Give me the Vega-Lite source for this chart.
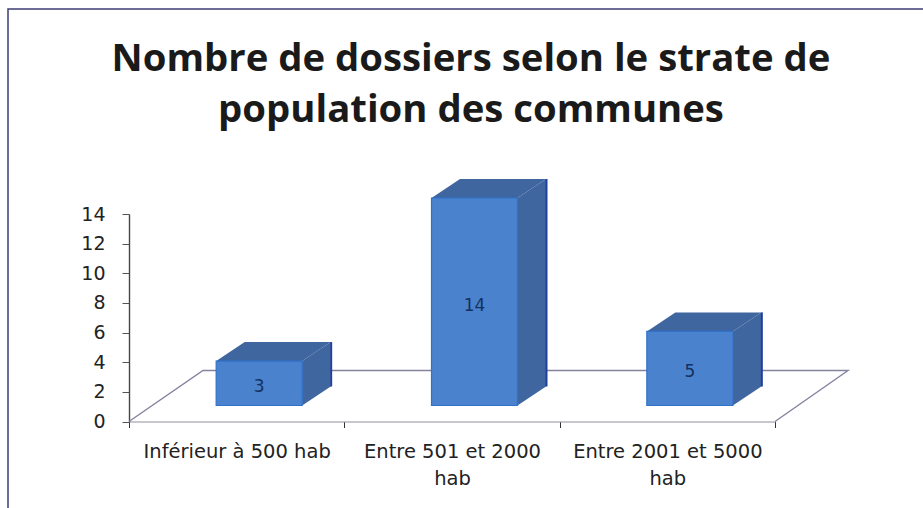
{
"$schema":"https://vega.github.io/schema/vega-lite/v6.json",
"autosize":"none",
"padding":{"left":8,"top":9,"right":0,"bottom":0},
"width":930,
"height":520,
"background":"white",
"title":{"text":["Nombre de dossiers selon le strate de","population des communes"],"anchor":"middle","frame":"group","offset":-121,"dx":-2,"font":"Open Sans","fontSize":38.3,"fontWeight":"bold","color":"#1a1a1a","lineHeight":51},
"config":{"view":{"stroke":"#3d3d74","strokeWidth":1.5}},
"data":{"values":[
{"category":"Inférieur à 500 hab","value":3},
{"category":"Entre 501 et 2000 hab","value":14},
{"category":"Entre 2001 et 5000 hab","value":5}
]},
"encoding":{
"x":{"field":"category","type":"nominal","sort":null,"scale":{"domain":["Inférieur à 500 hab","Entre 501 et 2000 hab","Entre 2001 et 5000 hab"],"range":[121,767],"paddingInner":0,"paddingOuter":0},"title":null,
"axis":{"orient":"bottom","offset":-107.5,"labelAngle":0,"labelFont":"DejaVu Sans","labelFontSize":19.5,"labelColor":"#222222","labelLimit":400,"labelPadding":15,"labelLineHeight":27,"tickBand":"extent","tickColor":"#333333","tickSize":6,"domainColor":"#8f8f9f","domainWidth":1.2,
"labelExpr":"datum.label == 'Entre 501 et 2000 hab' ? ['Entre 501 et 2000','hab'] : datum.label == 'Entre 2001 et 5000 hab' ? ['Entre 2001 et 5000','hab'] : datum.label"}},
"y":{"field":"value","type":"quantitative","scale":{"domain":[0,14],"range":[412.5,205],"nice":false},"title":null,
"axis":{"orient":"left","offset":-121,"values":[0,2,4,6,8,10,12,14],"grid":false,"labelFont":"DejaVu Sans","labelFontSize":19,"labelColor":"#222222","labelPadding":17,"tickColor":"#555555","tickSize":7,"domainColor":"#444444","domainWidth":1.4}}
},
"layer":[
{"transform":[{"filter":"datum.value == 14"}],
 "mark":{"type":"point","filled":false,"opacity":1,"size":4,"strokeWidth":1.4,"stroke":"#84829f","shape":"M-323,0L-249,-51L396,-51L323,0"},
 "encoding":{"y":{"datum":0}}},
{"mark":{"type":"point","filled":true,"opacity":1,"size":4,"color":"#3f669f"},
 "encoding":{"shape":{"field":"category","type":"nominal","legend":null,"scale":{"domain":["Inférieur à 500 hab","Entre 501 et 2000 hab","Entre 2001 et 5000 hab"],"range":["M65.5,-16L94,-35L94,9.5L65.5,28.5Z","M65.5,-16L94,-35L94,172.5L65.5,191.5Z","M65.5,-16L94,-35L94,39L65.5,58Z"]}}}},
{"mark":{"type":"point","filled":true,"opacity":1,"size":4,"color":"#3f669f","shape":"M-20.5,-16L8,-35L94,-35L65.5,-16Z"}},
{"mark":{"type":"bar","width":86,"xOffset":22.5,"yOffset":-16,"y2Offset":-16,"color":"#4a82cd","stroke":"#2f72cc","strokeWidth":1.2}},
{"mark":{"type":"rule","xOffset":94.5,"yOffset":-35,"y2Offset":-35,"strokeWidth":2,"color":"#1f3f9e"},
 "encoding":{"y2":{"datum":0}}},
{"transform":[{"calculate":"datum.value / 2","as":"mid"}],
 "mark":{"type":"text","xOffset":22.5,"yOffset":-12,"font":"DejaVu Sans","fontSize":17,"fontWeight":"normal","color":"#14305f"},
 "encoding":{"y":{"field":"mid","type":"quantitative"},"text":{"field":"value","type":"quantitative"}}}
]
}
